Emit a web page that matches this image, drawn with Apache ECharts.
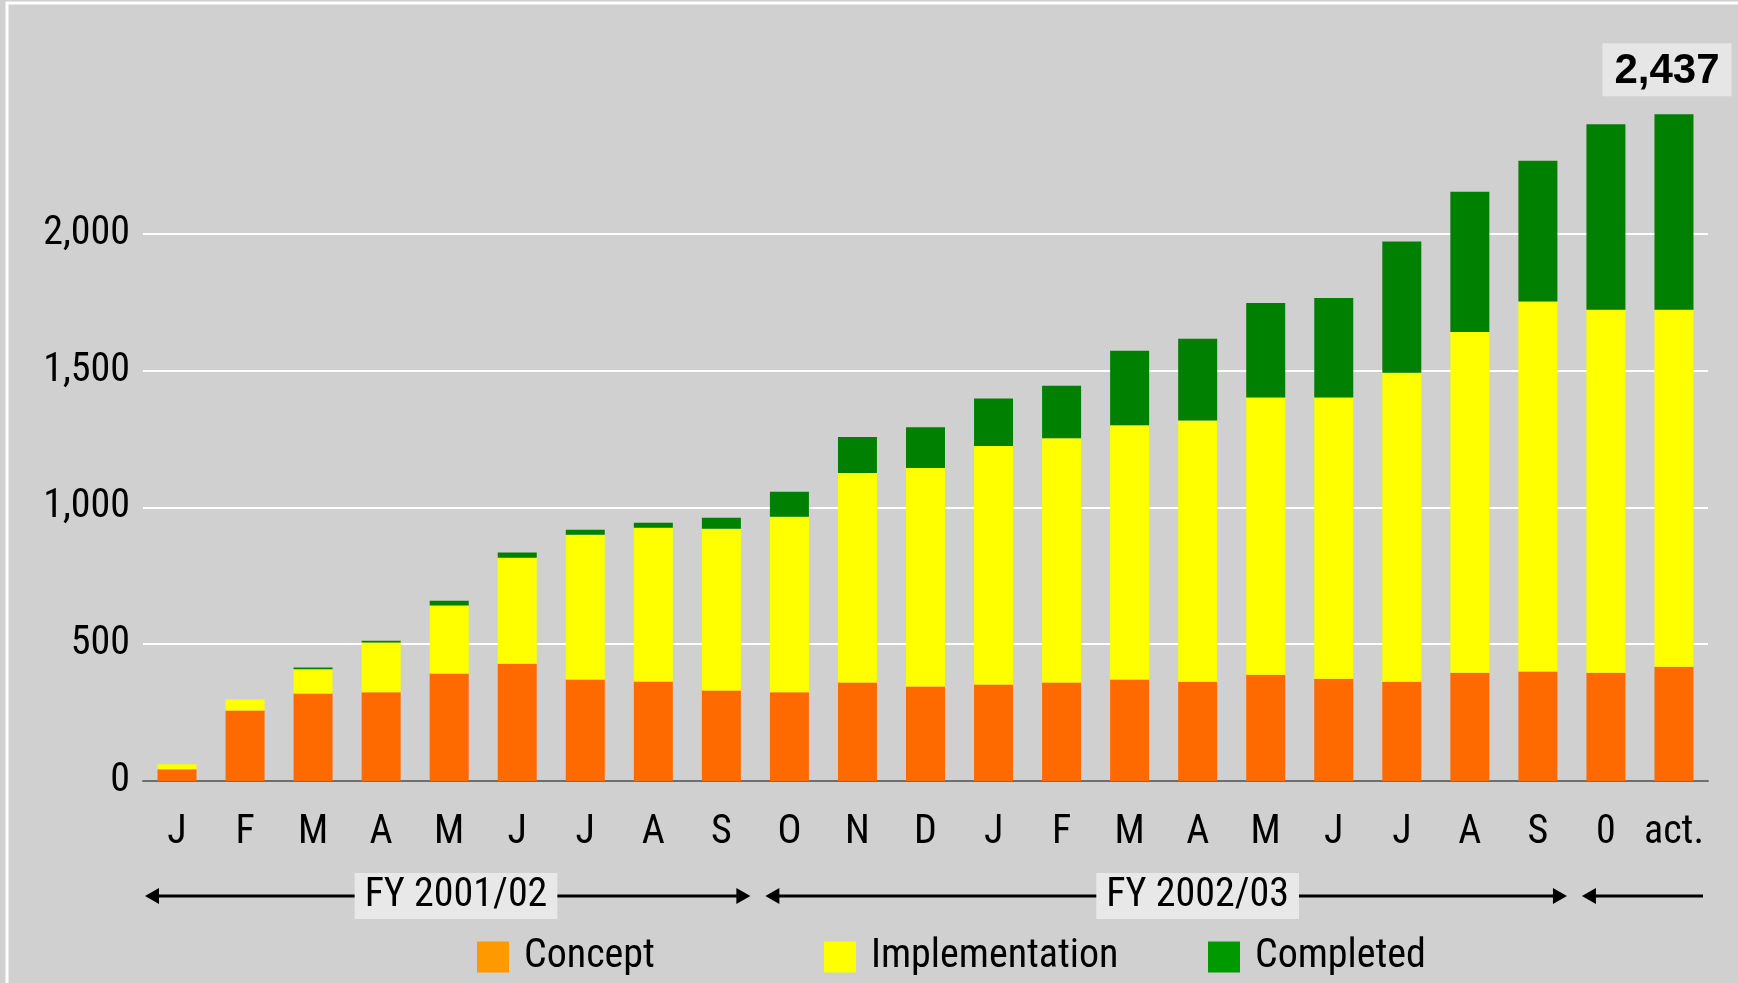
<!DOCTYPE html>
<html>
<head>
<meta charset="utf-8">
<script src="https://cdn.jsdelivr.net/npm/echarts@6/dist/echarts.min.js"></script>
<style>
  html, body { margin: 0; padding: 0; background: #d0d0d0; }
  #chart { width: 1738px; height: 983px; }
</style>
</head>
<body>
<div id="chart"></div>
<script>
const months = ['J', 'F', 'M', 'A', 'M', 'J', 'J', 'A', 'S', 'O', 'N', 'D', 'J', 'F', 'M', 'A', 'M', 'J', 'J', 'A', 'S', '0', 'act.']
const concept = [43, 258, 320, 324, 393, 429, 371, 364, 331, 324, 360, 345, 353, 360, 371, 363, 388, 374, 363, 396, 400, 396, 418]
const implementation = [18, 40, 88, 182, 248, 387, 529, 562, 591, 642, 766, 799, 871, 893, 929, 955, 1014, 1028, 1129, 1245, 1353, 1326, 1304]
const completed = [0, 0, 7, 7, 18, 19, 18, 18, 40, 91, 131, 149, 174, 192, 273, 298, 345, 363, 480, 513, 514, 678, 715]
const yMin = 0, yMax = 2500, yStep = 500

// fiscal year brackets under the axis (category index ranges)
const fiscalYears = [
  { name: 'FY 2001/02', from: 0, to: 8, labelAt: 4.1, heads: 'both' },
  { name: 'FY 2002/03', from: 9, to: 20, labelAt: 15, heads: 'both' },
  { name: '', from: 21, to: 22, labelAt: null, heads: 'left' }
]

const font = "'Roboto Condensed', 'DejaVu Sans Condensed', sans-serif"
const fs = 40

let chart = echarts.init(document.getElementById('chart'))

const last = months.length - 1
const total = concept[last] + implementation[last] + completed[last]

const legendCommon = {
  orient: 'horizontal',
  icon: 'rect',
  itemWidth: 32,
  itemHeight: 31,
  selectedMode: false,
  padding: 0,
  textStyle: { fontFamily: font, fontSize: fs, color: '#000', padding: [0, 0, 0, 10] }
}

let option = {
  backgroundColor: '#d0d0d0',
  animation: false,
  grid: { left: 143, right: 30, top: 97, bottom: 202, containLabel: false },
  legend: [
    Object.assign({ left: 477, top: 937, data: [{ name: 'Concept', itemStyle: { color: '#ff9900' } }] }, legendCommon),
    Object.assign({ left: 824, top: 937, data: [{ name: 'Implementation', itemStyle: { color: '#ffff00' } }] }, legendCommon),
    Object.assign({ left: 1208, top: 937, data: [{ name: 'Completed', itemStyle: { color: '#009900' } }] }, legendCommon)
  ],
  xAxis: {
    type: 'category',
    data: months,
    axisTick: { show: false },
    axisLine: { lineStyle: { color: '#6e6e6e', width: 2 } },
    axisLabel: { fontFamily: font, fontSize: fs, color: '#000', margin: 32, interval: 0 }
  },
  yAxis: {
    type: 'value',
    min: yMin,
    max: yMax,
    interval: yStep,
    axisLine: { show: false },
    axisTick: { show: false },
    splitLine: { showMaxLine: false, lineStyle: { color: '#ffffff', width: 2 } },
    axisLabel: {
      showMaxLabel: false,
      fontFamily: font, fontSize: fs, color: '#000', margin: 13,
      formatter: v => v.toLocaleString('en-US')
    }
  },
  series: [
    {
      name: 'Concept', type: 'bar', stack: 'total', barWidth: 39,
      itemStyle: { color: '#ff6a00' },
      data: concept
    },
    {
      name: 'Implementation', type: 'bar', stack: 'total', barWidth: 39,
      itemStyle: { color: '#ffff00' },
      data: implementation
    },
    {
      name: 'Completed', type: 'bar', stack: 'total', barWidth: 39,
      itemStyle: { color: '#008000' },
      data: completed.map((v, i) => i === last ? {
        value: v,
        label: {
          show: true, position: 'top', distance: 18, offset: [-7, 0],
          formatter: total.toLocaleString('en-US'),
          fontFamily: "'Liberation Sans', sans-serif", fontSize: 42, fontWeight: 'bold',
          color: '#000', backgroundColor: '#e6e6e6', padding: [7, 12, 4, 12]
        }
      } : v)
    }
  ]
}

chart.setOption(option)

// brackets with arrows, placed from the category axis
const x0 = chart.convertToPixel({ xAxisIndex: 0 }, 0)
const band = chart.convertToPixel({ xAxisIndex: 0 }, 1) - x0
const catX = i => x0 + i * band
const arrowY = 896
const head = 14, half = 8

let elements = [
  { type: 'rect', shape: { x: 7, y: 3, width: 1800, height: 1100 }, style: { fill: 'none', stroke: '#ffffff', lineWidth: 3 }, silent: true }
]
fiscalYears.forEach((fy, k) => {
  const left = catX(fy.from) - band / 2 + (k === 0 ? 2 : 10)
  const right = catX(fy.to) + band / 2 - 5
  elements.push({ type: 'line', shape: { x1: left + head - 2, y1: arrowY, x2: right - (fy.heads === 'both' ? head - 2 : 0), y2: arrowY }, style: { stroke: '#000', lineWidth: 3 } })
  elements.push({ type: 'polygon', shape: { points: [[left, arrowY], [left + head, arrowY - half], [left + head, arrowY + half]] }, style: { fill: '#000' } })
  if (fy.heads === 'both') {
    elements.push({ type: 'polygon', shape: { points: [[right, arrowY], [right - head, arrowY - half], [right - head, arrowY + half]] }, style: { fill: '#000' } })
  }
  if (fy.name) {
    elements.push({
      type: 'text', x: catX(fy.labelAt), y: arrowY,
      style: {
        text: fy.name, fontFamily: font, fontSize: fs, fill: '#000',
        align: 'center', verticalAlign: 'middle',
        backgroundColor: '#e8e8e8', padding: [4, 10, 2, 10]
      }
    })
  }
})
chart.setOption({ graphic: { elements: elements } })
</script>
</body>
</html>
